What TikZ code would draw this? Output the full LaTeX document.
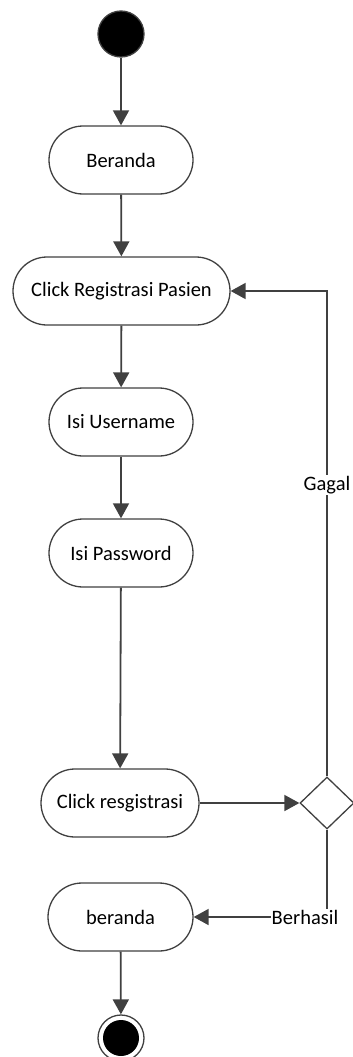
\documentclass[tikz,border=0pt]{standalone}
\usepackage{fontspec}
\setmainfont{Carlito}
\usetikzlibrary{arrows.meta,shapes.geometric}
\definecolor{ln}{HTML}{404040}
\tikzset{
  act/.style={draw=ln,line width=1.3pt,fill=white,rectangle,rounded corners=34pt,minimum height=68pt,inner sep=0pt,font=\fontsize{20.5}{23}\selectfont},
  arr/.style={draw=ln,line width=1.8pt,-{Triangle[length=15pt,width=16pt]}},
  lbl/.style={fill=white,inner sep=1pt,font=\fontsize{20.5}{23}\selectfont}
}
\begin{document}
\begin{tikzpicture}[x=1pt,y=-1pt]
\useasboundingbox (0,0) rectangle (353,1057);
\node[circle,fill=black,draw=ln,line width=1.3pt,minimum size=46pt,inner sep=0pt] (start) at (121,34) {};
\node[act,minimum width=144pt] (b1) at (121,160) {Beranda};
\node[act,minimum width=217pt] (crp) at (121.5,291) {Click Registrasi Pasien};
\node[act,minimum width=144pt] (user) at (121,422) {Isi Username};
\node[act,minimum width=144pt] (pass) at (121,553) {Isi Password};
\node[act,minimum width=158pt] (cr) at (120,803) {Click resgistrasi};
\node[diamond,draw=ln,line width=1.3pt,fill=white,minimum width=54pt,minimum height=52pt,inner sep=0pt] (dec) at (327,803) {};
\node[act,minimum width=145pt] (b2) at (120.5,917) {beranda};
\node[circle,draw=ln,line width=1.3pt,fill=white,minimum size=46pt,inner sep=0pt] (end) at (121,1038) {};
\node[circle,fill=black,minimum size=36pt,inner sep=0pt] (endin) at (end) {};

\draw[arr] (start) -- (b1);
\draw[arr] (b1) -- (crp);
\draw[arr] (crp) -- (user);
\draw[arr] (user) -- (pass);
\draw[arr] (pass) -- (cr);
\draw[arr] (cr) -- (dec);
\draw[arr] (dec.north) -- node[lbl,pos=0.6]{Gagal} (dec.north |- crp.east) -- (crp.east);
\draw[arr] (dec.south) -- (dec.south |- b2.east) -- node[lbl,pos=0.165]{Berhasil} (b2.east);
\draw[arr] (b2) -- (end);
\end{tikzpicture}
\end{document}
